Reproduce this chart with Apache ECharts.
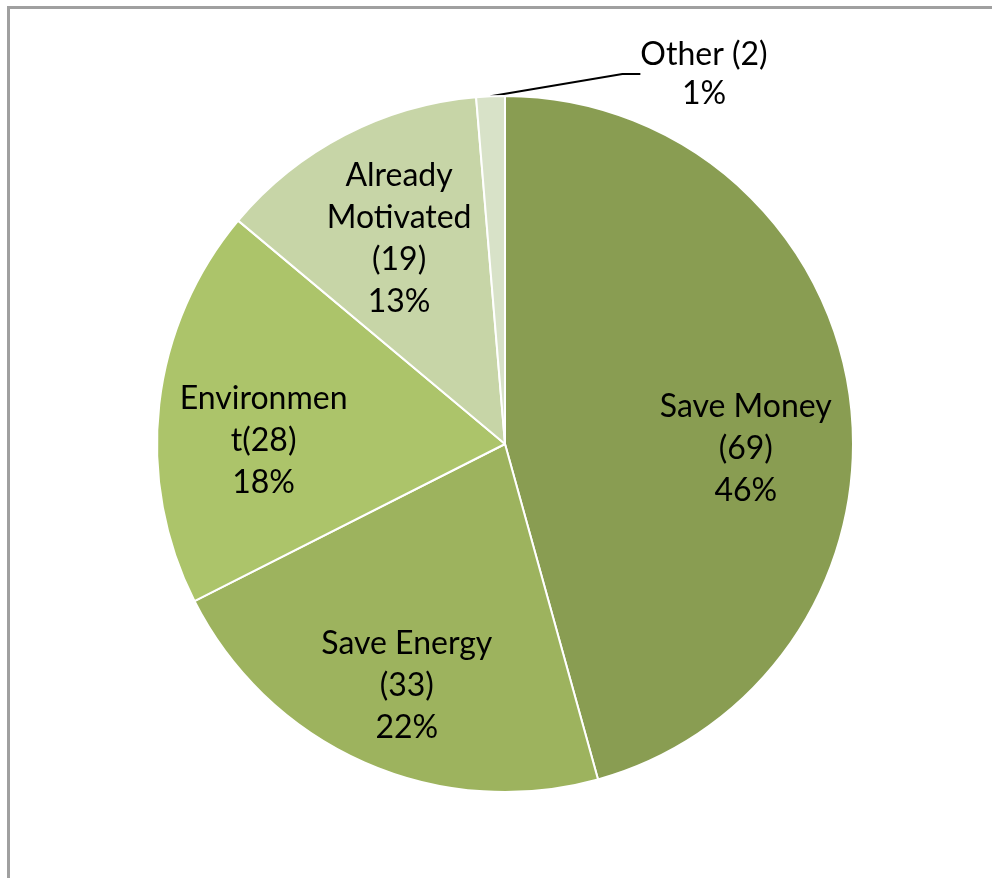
<!DOCTYPE html>
<html>
<head>
<meta charset="utf-8">
<script src="https://cdn.jsdelivr.net/npm/echarts@6/dist/echarts.min.js"></script>
<style>
  html, body { margin: 0; padding: 0; background: #fff; }
  #frame { position: absolute; left: 7px; top: 6px; width: 992px; height: 880px;
           border-left: 3px solid #a0a0a0; border-top: 3px solid #a0a0a0; }
  #chart { position: absolute; left: 0; top: 0; width: 992px; height: 878px; }
</style>
</head>
<body>
<div id="frame"></div>
<div id="chart"></div>
<script>
// Reasons given for taking part, by number of responses
const categories = ['Save Money', 'Save Energy', 'Environment', 'Already Motivated', 'Other'];
const counts = [69, 33, 28, 19, 2];
// Label heads as they wrap inside each slice
const labelHeads = ['Save Money\n', 'Save Energy\n', 'Environmen\nt', 'Already\nMotivated\n', 'Other '];
const colors = ['#899d52', '#9db35e', '#acc46a', '#c7d5a7', '#d8e2c8'];

const FONT = 'Lato, "Liberation Sans", sans-serif';
const FONT_SIZE = 32;
const CX = 505, CY = 444, R = 348;

// Small nudges so the inside labels sit where a best-fit layout puts them
const insideNudge = [[0, 37], [0, 19], [0, 24], [6, 10], [0, 0]];

function labelText(p) {
  return labelHeads[p.dataIndex] + '(' + p.value + ')\n' + p.percent + '%';
}

const last = categories.length - 1;

const sliceData = categories.map((name, i) => ({
  name: name,
  value: counts[i],
  itemStyle: { color: colors[i] },
  label: { show: i === last },
  labelLine: { show: i === last }
}));

const labelData = categories.map((name, i) => ({
  name: name,
  value: counts[i],
  label: { show: i !== last }
}));

const chart = echarts.init(document.getElementById('chart'), null, { renderer: 'canvas' });
chart.setOption({
  animation: false,
  series: [
    {
      type: 'pie',
      center: [CX, CY],
      radius: [0, R],
      startAngle: 90,
      clockwise: true,
      percentPrecision: 0,
      silent: true,
      data: sliceData,
      itemStyle: { borderColor: '#ffffff', borderWidth: 2 },
      label: {
        position: 'outside',
        formatter: labelText,
        color: '#000',
        fontFamily: FONT,
        fontSize: FONT_SIZE,
        lineHeight: 39,
        align: 'center'
      },
      labelLine: {
        length: 20,
        length2: 18,
        smooth: false,
        lineStyle: { color: '#000', width: 2 }
      },
      labelLayout: function () {
        return { x: 704, y: 74, align: 'center', verticalAlign: 'middle' };
      }
    },
    {
      type: 'pie',
      center: [CX, CY],
      radius: [132, R],
      startAngle: 90,
      clockwise: true,
      percentPrecision: 0,
      silent: true,
      data: labelData,
      itemStyle: { color: 'rgba(0,0,0,0)' },
      label: {
        position: 'inside',
        formatter: labelText,
        color: '#000',
        fontFamily: FONT,
        fontSize: FONT_SIZE,
        lineHeight: 42,
        align: 'center'
      },
      labelLine: { show: false },
      labelLayout: function (p) {
        const n = insideNudge[p.dataIndex];
        return { dx: n[0], dy: n[1] };
      }
    }
  ]
});
</script>
</body>
</html>
